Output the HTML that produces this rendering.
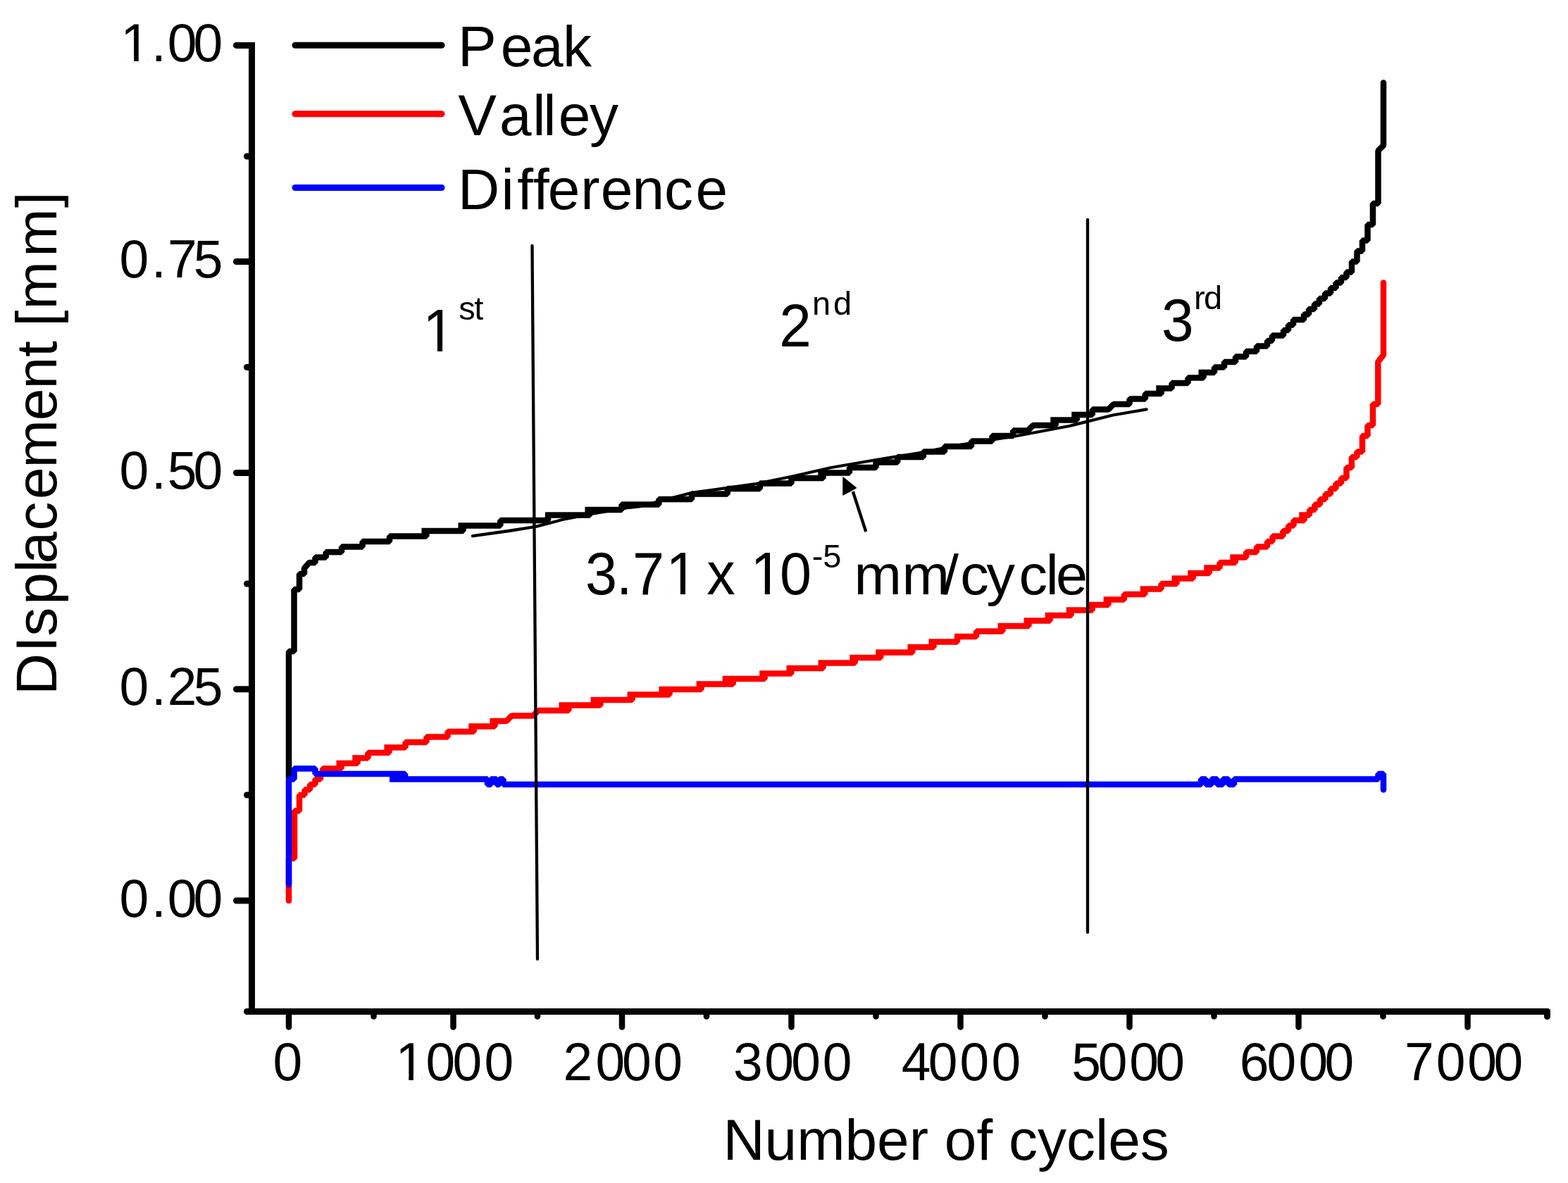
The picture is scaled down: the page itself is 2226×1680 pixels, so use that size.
<!DOCTYPE html>
<html><head><meta charset="utf-8"><title>Displacement vs Number of cycles</title>
<style>html,body{margin:0;padding:0;background:#fff;}svg{display:block;}</style></head>
<body>
<svg xmlns="http://www.w3.org/2000/svg" width="2226" height="1680" viewBox="0 0 2226 1680" font-family="'Liberation Sans', Arial, sans-serif" fill="#000">
<rect width="2226" height="1680" fill="#fff"/>
<path d="M410,1104 V925 H417.5 V837 H425 V815 H432 V807 L439,799 H447.5 V791.5 H462.7 V784 H485 V776.5 H514.6 V769 H553 V761.5 H605.35 V754 H598.45 H657.5 V746.5 H650.5 H710.3 V739 H778 V731.5 H774 H837.4 V724 H830.4 H882.5 V716.5 H935.3 V709 H982 V701.5 H1032.8 V694 H1078.8 V686.5 H1123.5 V679 H1168.7 V671.5 H1161.3 H1205.9 V664 H1243.5 V656.5 H1274.2 V649 H1310.9 V641.5 H1341 V634 H1379 V626.5 H1408.6 V619 H1438.3 V611.5 H1459.25 L1466.75,604 H1498.7 V596.5 H1491.3 H1528.75 V589 H1521.25 H1550.8 V581.5 H1573.45 L1580.95,574 H1603.5 V566.5 H1625.9 V559 H1648.75 V551.5 H1641.25 H1663.5 V544 H1686.5 V536.5 H1708.5 V529 H1701.5 H1724 V521.5 H1738 V514 H1754 V506.5 H1769 V499 H1784 V491.5 H1799 V484 H1806 V476.5 H1822 V469 H1829 V461.5 H1836 V454 H1851 V446.5 H1858 V439 H1866 V431.5 H1873 V424 H1881 V416.5 H1889 V409 H1896.5 V401.5 H1904 V394 H1911.5 V386.5 H1919 V371.5 H1926.5 V356.5 H1934 V341.5 H1941.5 V319 H1949 V289 H1956.5 V214 L1964,206.5 V117.5" fill="none" stroke="#000" stroke-width="8.5" stroke-linejoin="bevel" stroke-linecap="round"/>
<path d="M410,1279 V1219 H418 V1151.5 H425 V1129 H432.5 V1121.5 H440 V1114 H447.5 V1106.5 H455 V1099 H458 V1091.5 H484.35 V1084 H477.45 H507.55 V1076.5 H500.25 H522.4 V1069 H552.4 V1061.5 H545.4 H575.5 V1054 H605.4 V1046.5 H635.5 V1039 H672.7 V1031.5 H665.3 H702.5 V1024 H695.5 H718.95 L726.45,1016.5 H756.65 L764.15,1009 H807.35 V1001.5 H793.45 H852.45 V994 H838.55 H897.6 V986.5 H890.6 H950.55 V979 H935.45 H995.6 V971.5 H988.6 H1040.75 V964 H1025.65 H1085.6 V956.5 H1078.2 H1123.35 V949 H1116.45 H1168.45 V941.5 H1161.55 H1213.7 V934 H1206.3 H1250.3 V926.5 H1243.3 H1295.35 V919 H1288.45 H1325.5 V911.5 H1318.5 H1359 V904 H1355 H1386 V896.5 H1423.45 V889 H1416.55 H1460.5 V881.5 H1453.5 H1490.55 V874 H1483.65 H1520.65 V866.5 H1513.75 H1550.75 V859 H1543.45 H1573.55 V851.5 H1566.65 H1595.9 V844 H1625.3 V836.5 H1618.7 H1648.5 V829 H1670.5 V821.5 H1663.5 H1693.7 V814 H1686.3 H1716.7 V806.5 H1709.3 H1731.5 V799 H1753.7 V791.5 H1746.3 H1769.1 V784 H1784 V776.5 H1799 V769 H1806.5 V761.5 H1821.3 V754 H1828.9 V746.5 H1836.5 V739 H1851.55 V731.5 H1844.25 H1859 V724 H1866.5 V716.5 H1874 V709 H1881.5 V701.5 H1889 V694 H1896.4 V686.5 H1904 V679 H1911.5 V664 H1918.9 V649 H1926.4 V641.5 H1934 V619 H1941.5 V604 H1949 V574 H1956.3 V514 L1964,504 V401.5" fill="none" stroke="#f00" stroke-width="8.5" stroke-linejoin="bevel" stroke-linecap="round"/>
<path d="M410,1256 V1106.5 H417.5 V1091.5 H447.5 V1099 H575 V1106.5 H553 H560 V1099 H563 V1106.5 H568 V1099 H571 V1106.5 H692 V1114 H697 V1106.5 H705 V1114 H709 V1106.5 H714.5 V1114 H1705 V1106.5 H1712 V1114 H1720 V1106.5 H1728 V1114 H1736 V1106.5 H1744 V1114 H1752 V1106.5 H1757 V1106.5 H1956.5 V1099 H1964 V1121.5" fill="none" stroke="#00f" stroke-width="8.5" stroke-linejoin="bevel" stroke-linecap="round"/>
<g stroke="#000" stroke-linecap="round" fill="none">
<line x1="755.5" y1="349" x2="763" y2="1362" stroke-width="4.3"/>
<line x1="1544" y1="312" x2="1544" y2="1324" stroke-width="4.3"/>
<polyline points="671,761.2 722,754 760,748 781.7,742.5 798,738 842,729.5 889,721.3 909,719 957,706.3 981,700 1071,687.5 1125,676.5 1180,664 1241,653.5 1303,643.5 1364,631.5 1441,619.5 1518,605 1580,589.5 1627.6,581.4" stroke-width="4.3" stroke-linejoin="round"/>
<line x1="1210.8" y1="698" x2="1229.3" y2="755" stroke-width="4.3" stroke-linecap="butt"/>
</g>
<polygon points="1197,678 1215.3,692.9 1197,702.8" fill="#000" stroke="#000" stroke-width="1.5" stroke-linejoin="round"/>
<g stroke="#000" fill="none" stroke-width="9">
<line x1="357.5" y1="64.4" x2="357.5" y2="1436.5" stroke-linecap="square"/>
<line x1="350.5" y1="1436.5" x2="2196.5" y2="1436.5" stroke-linecap="round"/>
<line x1="2196.5" y1="1436.5" x2="2196.5" y2="1443.5" stroke-linecap="round"/>
<line x1="335.5" y1="64.4" x2="357.5" y2="64.4" stroke-linecap="round"/>
<line x1="335.5" y1="371.5" x2="357.5" y2="371.5" stroke-linecap="round"/>
<line x1="335.5" y1="671.5" x2="357.5" y2="671.5" stroke-linecap="round"/>
<line x1="335.5" y1="978.8" x2="357.5" y2="978.8" stroke-linecap="round"/>
<line x1="335.5" y1="1279" x2="357.5" y2="1279" stroke-linecap="round"/>
<line x1="350.5" y1="222" x2="357.5" y2="222" stroke-linecap="round"/>
<line x1="350.5" y1="521.5" x2="357.5" y2="521.5" stroke-linecap="round"/>
<line x1="350.5" y1="829" x2="357.5" y2="829" stroke-linecap="round"/>
<line x1="350.5" y1="1129" x2="357.5" y2="1129" stroke-linecap="round"/>
<line x1="410" y1="1436.5" x2="410" y2="1458.5" stroke-width="8.5" stroke-linecap="round"/>
<line x1="643.5" y1="1436.5" x2="643.5" y2="1458.5" stroke-width="8.5" stroke-linecap="round"/>
<line x1="883" y1="1436.5" x2="883" y2="1458.5" stroke-width="8.5" stroke-linecap="round"/>
<line x1="1123.5" y1="1436.5" x2="1123.5" y2="1458.5" stroke-width="8.5" stroke-linecap="round"/>
<line x1="1363.5" y1="1436.5" x2="1363.5" y2="1458.5" stroke-width="8.5" stroke-linecap="round"/>
<line x1="1603.5" y1="1436.5" x2="1603.5" y2="1458.5" stroke-width="8.5" stroke-linecap="round"/>
<line x1="1843.5" y1="1436.5" x2="1843.5" y2="1458.5" stroke-width="8.5" stroke-linecap="round"/>
<line x1="2083.5" y1="1436.5" x2="2083.5" y2="1458.5" stroke-width="8.5" stroke-linecap="round"/>
<line x1="530.5" y1="1436.5" x2="530.5" y2="1443.5" stroke-width="8.5" stroke-linecap="round"/>
<line x1="763" y1="1436.5" x2="763" y2="1443.5" stroke-width="8.5" stroke-linecap="round"/>
<line x1="1003" y1="1436.5" x2="1003" y2="1443.5" stroke-width="8.5" stroke-linecap="round"/>
<line x1="1243.5" y1="1436.5" x2="1243.5" y2="1443.5" stroke-width="8.5" stroke-linecap="round"/>
<line x1="1483.5" y1="1436.5" x2="1483.5" y2="1443.5" stroke-width="8.5" stroke-linecap="round"/>
<line x1="1723.5" y1="1436.5" x2="1723.5" y2="1443.5" stroke-width="8.5" stroke-linecap="round"/>
<line x1="1963.5" y1="1436.5" x2="1963.5" y2="1443.5" stroke-width="8.5" stroke-linecap="round"/>
</g>
<g stroke-width="9" stroke-linecap="round">
<line x1="419" y1="64.3" x2="627" y2="64.3" stroke="#000"/>
<line x1="419" y1="161.8" x2="627" y2="161.8" stroke="#f00"/>
<line x1="419" y1="266.5" x2="627" y2="266.5" stroke="#00f"/>
</g>
<g clip-path="url(#c0)"><text x="171.3 215.1 237.7 274.6" y="0" font-size="75" transform="translate(0 87.0) scale(1 1.013)">1.00</text></g>
<text x="169.6 215.1 238.0 274.7" y="0" font-size="75" transform="translate(0 394.1) scale(1 1.013)">0.75</text>
<text x="169.6 215.1 237.7 274.6" y="0" font-size="75" transform="translate(0 694.1) scale(1 1.013)">0.50</text>
<text x="169.6 215.1 237.7 274.7" y="0" font-size="75" transform="translate(0 1001.4) scale(1 1.013)">0.25</text>
<text x="169.6 215.1 237.7 274.6" y="0" font-size="75" transform="translate(0 1301.6) scale(1 1.013)">0.00</text>
<text x="387.6" y="0" font-size="75" transform="translate(0 1534) scale(1 1.013)">0</text>
<g clip-path="url(#c1)"><text x="561.4 604.5 642.6 687.5" y="0" font-size="75" transform="translate(0 1534) scale(1 1.013)">1000</text></g>
<text x="799.6 845.4 883.0 927.2" y="0" font-size="75" transform="translate(0 1534) scale(1 1.013)">2000</text>
<text x="1041.1 1085.2 1123.2 1167.8" y="0" font-size="75" transform="translate(0 1534) scale(1 1.013)">3000</text>
<text x="1279.8 1317.8 1362.6 1407.4" y="0" font-size="75" transform="translate(0 1534) scale(1 1.013)">4000</text>
<text x="1521.2 1558.7 1603.2 1640.2" y="0" font-size="75" transform="translate(0 1534) scale(1 1.013)">5000</text>
<text x="1759.8 1798.5 1843.5 1880.6" y="0" font-size="75" transform="translate(0 1534) scale(1 1.013)">6000</text>
<text x="1994.0 2038.7 2083.2 2120.5" y="0" font-size="75" transform="translate(0 1534) scale(1 1.013)">7000</text>
<text x="650.0 710.8 753.9 799.1" y="0" font-size="82" transform="translate(0 93.6) scale(1 1.0)">Peak</text>
<text x="650.2 708.9 756.3 771.3 792.8 837.0" y="0" font-size="82" transform="translate(0 191.8) scale(1 1.0)">Valley</text>
<text x="649.9 711.4 734.2 756.9 777.8 824.2 852.8 897.5 943.0 987.5" y="0" font-size="82" transform="translate(0 297) scale(1 1.0)">Difference</text>
<text x="1026.4" y="0" font-size="82" transform="translate(0 1647) scale(1 1.0)">Number of cycles</text>
<text x="13.0 73.8 96.6 141.2 186.9 199.4 246.4 291.0 335.6 402.7 447.6 493.1 515.9 536.5 560.5 635.3 704.8" y="0" font-size="82" transform="translate(80 1000) rotate(-90) scale(1 1.0)">DIsplacement [mm]</text>
<g clip-path="url(#c2)"><text x="600.3" y="0" font-size="82" transform="translate(0 499) scale(1 1.03)">1</text></g>
<text x="651.3 673.3" y="0" font-size="47" transform="translate(0 453.5) scale(1 1.0)">st</text>
<text x="1106.3" y="0" font-size="82" transform="translate(0 491.7) scale(1 1.03)">2</text>
<text x="1152.9 1183.0" y="0" font-size="47" transform="translate(0 446.7) scale(1 1.0)">nd</text>
<text x="1648.9" y="0" font-size="82" transform="translate(0 484) scale(1 1.03)">3</text>
<text x="1695.0 1708.9" y="0" font-size="47" transform="translate(0 439) scale(1 1.0)">rd</text>
<g clip-path="url(#c3)"><text x="831.0 875.1 897.9 945.6 990.6 1003.3 1043.8 1065.5 1106.9" y="0" font-size="81" transform="translate(0 844.3) scale(1 1.043)">3.71 x 10</text></g>
<text x="1152.7 1168.2" y="0" font-size="47" transform="translate(0 806) scale(1 1.0)">-5</text>
<text x="1212.6 1280.4 1338.5 1363.3 1400.4 1446.5 1484.7 1499.1" y="0" font-size="81" transform="translate(0 843.6) scale(1 0.985)">mm/cycle</text>
<defs><clipPath id="c0"><rect x="96.3" y="-25.5" width="328.3" height="104.9"/><rect x="96.3" y="89.2" width="328.3" height="75.0"/><rect x="96.3" y="79.4" width="80.2" height="9.8"/><rect x="190.2" y="79.4" width="6.6" height="9.8"/><rect x="209.7" y="79.4" width="214.9" height="9.8"/></clipPath><clipPath id="c1"><rect x="486.4" y="1421.5" width="351.1" height="104.9"/><rect x="486.4" y="1536.2" width="351.1" height="75.0"/><rect x="486.4" y="1526.4" width="80.2" height="9.8"/><rect x="580.3" y="1526.4" width="6.6" height="9.8"/><rect x="599.8" y="1526.4" width="237.7" height="9.8"/></clipPath><clipPath id="c2"><rect x="518.3" y="376.0" width="246.0" height="114.6"/><rect x="518.3" y="501.5" width="246.0" height="82.0"/><rect x="518.3" y="490.6" width="87.7" height="10.9"/><rect x="620.9" y="490.6" width="7.2" height="10.9"/><rect x="642.3" y="490.6" width="122.0" height="10.9"/></clipPath><clipPath id="c3"><rect x="750.0" y="722.8" width="518.9" height="113.1"/><rect x="750.0" y="846.7" width="518.9" height="81.0"/><rect x="750.0" y="835.9" width="201.2" height="10.9"/><rect x="965.9" y="835.9" width="7.1" height="10.9"/><rect x="987.0" y="835.9" width="84.1" height="10.9"/><rect x="1085.8" y="835.9" width="7.1" height="10.9"/><rect x="1106.9" y="835.9" width="161.9" height="10.9"/></clipPath></defs>
</svg>
</body></html>
